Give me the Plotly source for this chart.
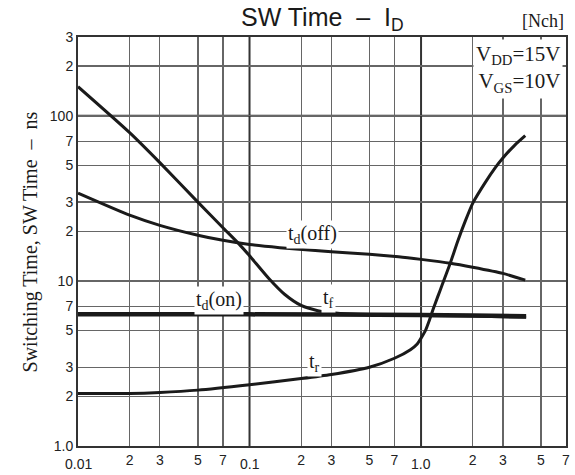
import math
import plotly.graph_objects as go

# ---- data ----
tf_x = [0.01, 0.02, 0.03, 0.05, 0.07, 0.087, 0.1, 0.13, 0.16, 0.2, 0.25, 0.3, 0.4, 0.6, 1.0, 2.0, 4.1]
tf_y = [150, 79, 52, 30, 21, 16.7, 14.2, 10.3, 8.3, 7.1, 6.6, 6.42, 6.3, 6.24, 6.18, 6.12, 6.02]

tdoff_x = [0.01, 0.02, 0.03, 0.05, 0.07, 0.1, 0.15, 0.3, 0.5, 0.74, 1.0, 1.48, 2.0, 3.0, 4.05]
tdoff_y = [34, 25, 21.7, 18.9, 17.6, 16.6, 15.9, 15.0, 14.5, 14.0, 13.5, 12.8, 12.1, 11.1, 10.1]

tdon_x = [0.01, 0.1, 1.0, 2.0, 4.1]
tdon_y = [6.27, 6.27, 6.22, 6.17, 6.1]

tr_x = [0.01, 0.02, 0.03, 0.05, 0.1, 0.2, 0.3, 0.5, 0.7, 0.867, 0.95, 1.0, 1.06, 1.12, 1.18,
        1.25, 1.325, 1.48, 1.64, 1.81, 2.0, 2.37, 2.71, 3.0, 3.5, 4.05]
tr_y = [2.08, 2.08, 2.11, 2.18, 2.35, 2.56, 2.71, 3.0, 3.4, 3.83, 4.15, 4.5, 5.0, 5.8, 6.8,
        8.0, 9.4, 12.8, 17.5, 23.0, 29.5, 39.5, 48.5, 55.5, 66, 75.7]

x_tickvals = [0.02, 0.03, 0.05, 0.07, 0.2, 0.3, 0.5, 0.7, 2, 3, 5, 7]
x_ticktext = ["2", "3", "5", "7", "2", "3", "5", "7", "2", "3", "5", "7"]
x_decades = [0.01, 0.1, 1.0]
x_decade_text = ["0.01", "0.1", "1.0"]

y_tickvals = [1, 2, 3, 5, 7, 10, 20, 30, 50, 70, 100, 200, 300]
y_ticktext = ["1.0", "2", "3", "5", "7", "10", "2", "3", "5", "7", "100", "2", "3"]

labels = [
    ("t<sub>d</sub>(off)", 0.234, 19.0),
    ("t<sub>d</sub>(on)", 0.066, 7.6),
    ("t<sub>f</sub>", 0.289, 7.85),
    ("t<sub>r</sub>", 0.24, 3.2),
]

SANS = "Liberation Sans, Arial, sans-serif"
SERIF = "Liberation Serif, Times New Roman, serif"

fig = go.Figure()
for xs, ys, w in [(tdoff_x, tdoff_y, 3), (tdon_x, tdon_y, 4.5), (tf_x, tf_y, 3), (tr_x, tr_y, 3)]:
    fig.add_trace(go.Scatter(x=xs, y=ys, mode="lines",
                             line=dict(color="#1a1a1a", width=w, shape="spline", smoothing=0.6),
                             showlegend=False, hoverinfo="skip"))

# decade grid lines (thicker)
for xv in [0.1, 1.0]:
    fig.add_shape(type="line", xref="x", yref="paper", x0=xv, x1=xv, y0=0, y1=1,
                  line=dict(color="#333", width=2), layer="between")
for yv in [10, 100]:
    fig.add_shape(type="line", xref="paper", yref="y", x0=0, x1=1, y0=yv, y1=yv,
                  line=dict(color="#333", width=2), layer="between")

ann = []
for t, xv, yv in labels:
    ann.append(dict(text=t, x=math.log10(xv), y=math.log10(yv), xref="x", yref="y",
                    showarrow=False, bgcolor="white", borderpad=1,
                    font=dict(family=SERIF, size=20, color="#1a1a1a")))
for xv, t in zip(x_decades, x_decade_text):
    ann.append(dict(text=t, x=math.log10(xv), y=0, xref="x", yref="paper",
                    yanchor="top", showarrow=False, yshift=-8,
                    font=dict(family=SANS, size=14, color="#222")))
ann.append(dict(text="SW Time\u00a0\u00a0–\u00a0\u00a0I<sub>D</sub>", x=0.5, y=1, xref="paper",
                yref="paper", yanchor="bottom", showarrow=False, yshift=0,
                font=dict(family=SANS, size=25, color="#1a1a1a")))
ann.append(dict(text="[Nch]", x=1, y=1, xref="paper", yref="paper", xanchor="right",
                yanchor="bottom", showarrow=False, yshift=4,
                font=dict(family=SERIF, size=18, color="#1a1a1a")))
ann.append(dict(text="V<sub>DD</sub>=15V<br>V<sub>GS</sub>=10V", x=1, y=1, xref="paper",
                yref="paper", xanchor="right", yanchor="top", align="right", showarrow=False,
                xshift=-3, yshift=-2, bgcolor="white", borderpad=2,
                font=dict(family=SERIF, size=21, color="#1a1a1a")))
ann.append(dict(text="Switching Time, SW Time\u00a0\u00a0–\u00a0\u00a0ns", x=-0.124, y=0.5,
                xref="paper", yref="paper", textangle=-90, showarrow=False,
                font=dict(family=SERIF, size=20, color="#1a1a1a")))

fig.update_layout(
    width=575, height=475,
    margin=dict(l=78, r=5, t=37, b=29),
    paper_bgcolor="white", plot_bgcolor="white",
    annotations=ann,
    xaxis=dict(type="log", range=[math.log10(0.01), math.log10(7)],
               tickvals=x_tickvals, ticktext=x_ticktext, ticks="",
               showgrid=True, gridcolor="#666", gridwidth=1.3,
               showline=True, mirror=True, linecolor="#333", linewidth=2,
               zeroline=False, tickfont=dict(family=SANS, size=14, color="#222")),
    yaxis=dict(type="log", range=[0, math.log10(300)],
               tickvals=y_tickvals, ticktext=y_ticktext, ticks="",
               showgrid=True, gridcolor="#666", gridwidth=1.3,
               showline=True, mirror=True, linecolor="#333", linewidth=2,
               zeroline=False, tickfont=dict(family=SANS, size=14, color="#222")),
)

fig.write_html("out.html", config={"displayModeBar": False, "staticPlot": True})

# remove the browser's default page margin so the figure fills the window exactly
with open("out.html", "r", encoding="utf-8") as fh:
    html = fh.read()
html = html.replace("<head>", "<head><style>html,body{margin:0;padding:0;overflow:hidden;}</style>", 1)
with open("out.html", "w", encoding="utf-8") as fh:
    fh.write(html)
